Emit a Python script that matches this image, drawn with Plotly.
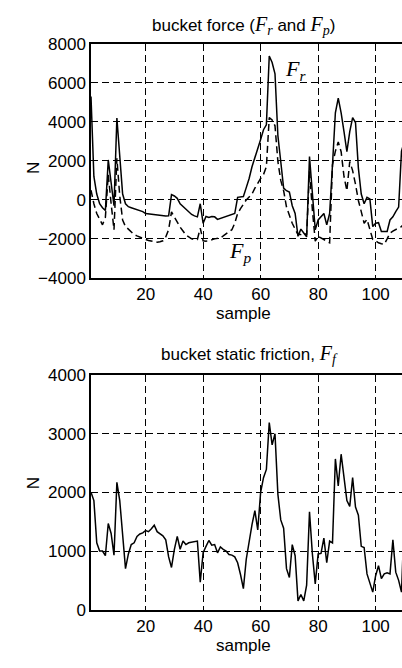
import plotly.graph_objects as go

samples = list(range(1, 111))

fr = [5300, 1200, 300, -200, -400, -550, 2050, 700, -300, 4200,
      2200, 300, -200, -350, -400, -450, -480, -550, -600, -700,
      -720, -740, -760, -780, -820, -830, -830, -820, 270, 200,
      80, -200, -350, -500, -650, -750, -820, -870, -200, -1200,
      -850, -900, -850, -870, -1000, -950, -900, -880, -830, -750,
      -700, 130, 150, 170, 630, 1100, 1700, 2130, 2600, 3100,
      3600, 3850, 7380, 7050, 6470, 3300, 1970, 600, 470, 400,
      -300, -700, -1870, -1500, -1700, -1900, 2220, 470, -1530, -1030,
      -870, -700, -1280, -700, 1800, 4470, 5220, 4470, 3500, 2470,
      3500, 4220, 3970, 1630, 300, -200, 130, 50, -1370, -1200,
      -1170, -1620, -1620, -1620, -1030, -870, -600, -370, 2500, 3000]

fp = [500, -200, -700, -1000, -1280, -900, 1300, -200, -1530, 2130,
      200, -1030, -1370, -1500, -1650, -1780, -1850, -1920, -1980, -2030,
      -2080, -2120, -2150, -2170, -2150, -2100, -1900, -1530, -620, -900,
      -1200, -1400, -1600, -1800, -1900, -2000, -2030, -2030, -1450, -2100,
      -2120, -2100, -2050, -2000, -1970, -1950, -1850, -1750, -1650, -1530,
      -1200, -700, -450, -200, 0, 150, 300, 600, 880, 1100,
      1300, 1700, 4220, 4100, 3800, 1970, 1000, 470, -370, -800,
      -1200, -1500, -1780, -1780, -1700, -1800, 1470, -500, -2120, -1870,
      -1950, -2030, -2100, -2200, 1800, 2500, 2970, 2470, 1200, 470,
      1970, 1500, 800, -30, -600, -1200, -1000, -1500, -2030, -2100,
      -2200, -2250, -2280, -2000, -1700, -1600, -1530, -1450, -1370, -1200]

ff = [2000, 1860, 1140, 1000, 1000, 920, 1470, 1300, 930, 2170,
      1860, 1250, 700, 950, 1110, 1140, 1250, 1290, 1310, 1350,
      1330, 1380, 1440, 1330, 1300, 1260, 1190, 900, 720, 1030,
      1250, 1030, 1170, 1110, 1140, 1150, 1160, 1170, 470, 970,
      1080, 1180, 1100, 1110, 970, 1070, 1030, 1000, 940, 930,
      900, 800, 600, 360, 860, 1190, 1450, 1690, 1360, 2000,
      2250, 2390, 3190, 2810, 3000, 1970, 1530, 1390, 700, 550,
      1110, 920, 150, 260, 150, 420, 1670, 950, 440, 950,
      960, 1220, 800, 1170, 1140, 2570, 2110, 2650, 2250, 1860,
      1760, 2250, 1750, 1610, 1080, 1060, 610, 470, 300, 580,
      750, 530, 610, 630, 610, 1190, 640, 500, 300, 1600]

x_ticks = [20, 40, 60, 80, 100]
y1_ticks = [-4000, -2000, 0, 2000, 4000, 6000, 8000]
y2_ticks = [0, 1000, 2000, 3000, 4000]

W, H = 402, 668
L = 91
x_range = [1, 1 + (W - L) / 2.875]

def py(px):
    return (H - px) / H

SANS = "Liberation Sans, Arial, sans-serif"
SERIF = "Liberation Serif, Times New Roman, serif"

def math(sym, sub, size):
    return (f'<span style="font-family:{SERIF};font-size:{size}px"><i>{sym}<sub>{sub}</sub></i></span>')

fig = go.Figure()
fig.add_trace(go.Scatter(x=samples, y=fr, mode="lines", xaxis="x", yaxis="y",
                         line=dict(color="black", width=1.5), showlegend=False))
fig.add_trace(go.Scatter(x=samples, y=fp, mode="lines", xaxis="x", yaxis="y",
                         line=dict(color="black", width=1.5, dash="7px,4px"), showlegend=False))
fig.add_trace(go.Scatter(x=samples, y=ff, mode="lines", xaxis="x2", yaxis="y2",
                         line=dict(color="black", width=1.5), showlegend=False))

grid = dict(showgrid=True, gridcolor="black", gridwidth=1, griddash="7px,4px",
            showline=True, linecolor="black", linewidth=1.5, zeroline=False,
            ticks="", tickfont=dict(family=SANS, size=17, color="black"))

fig.update_layout(
    width=W, height=H,
    margin=dict(l=L, r=0, t=0, b=0),
    plot_bgcolor="white", paper_bgcolor="white",
    font=dict(family=SANS, size=17, color="black"),
    xaxis=dict(domain=[0, 1], range=x_range, tickvals=x_ticks, anchor="y",
               mirror=True, **grid),
    yaxis=dict(domain=[py(276.7), py(36)], range=[-4000, 8000], tickvals=y1_ticks,
               anchor="x", **grid),
    xaxis2=dict(domain=[0, 1], range=x_range, tickvals=x_ticks, anchor="y2",
                mirror=True, **grid),
    yaxis2=dict(domain=[py(618.3), py(376.7)], range=[0, 4000], tickvals=y2_ticks,
                anchor="x2", **grid),
)

ann = []
ann.append(dict(text="bucket force (" + math("F", "r", 20) + " and " + math("F", "p", 20) + ")",
                xref="paper", yref="paper", x=0.49, y=py(17), showarrow=False,
                font=dict(size=17), yanchor="middle"))
ann.append(dict(text="bucket static friction, " + math("F", "f", 20),
                xref="paper", yref="paper", x=0.51, y=py(356), showarrow=False,
                font=dict(size=17), yanchor="middle"))
ann.append(dict(text="sample", xref="paper", yref="paper", x=0.49, y=py(313),
                showarrow=False, font=dict(size=17), yanchor="middle"))
ann.append(dict(text="sample", xref="paper", yref="paper", x=0.49, y=py(655),
                showarrow=False, font=dict(size=17), yanchor="middle"))
ann.append(dict(text="N", xref="paper", yref="paper", x=(22 - L) / (W - L), y=py(156),
                showarrow=False, textangle=-90, font=dict(size=17)))
ann.append(dict(text="N", xref="paper", yref="paper", x=(22 - L) / (W - L), y=py(497),
                showarrow=False, textangle=-90, font=dict(size=17)))
ann.append(dict(text=math("F", "r", 22), xref="x", yref="y", x=72, y=6650,
                showarrow=False))
ann.append(dict(text=math("F", "p", 22), xref="x", yref="y", x=52.8, y=-2700,
                showarrow=False))
fig.update_layout(annotations=ann)

fig.write_html("out.html")
